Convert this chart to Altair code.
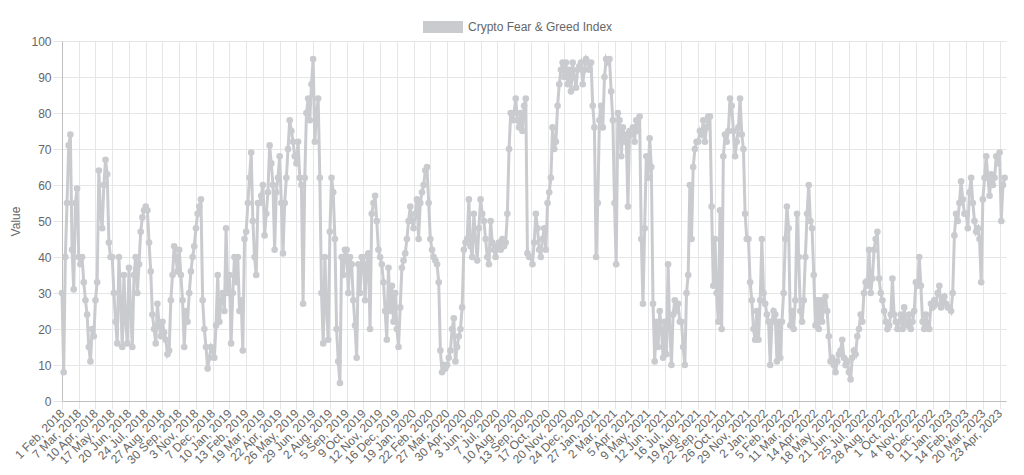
import json
import altair as alt
import pandas as pd

series_name = "Crypto Fear & Greed Index"

tick_labels = [
    "1 Feb, 2018", "7 Mar, 2018", "10 Apr, 2018", "17 May, 2018", "20 Jun, 2018",
    "24 Jul, 2018", "27 Aug, 2018", "30 Sep, 2018", "3 Nov, 2018", "7 Dec, 2018",
    "10 Jan, 2019", "13 Feb, 2019", "19 Mar, 2019", "22 Apr, 2019", "26 May, 2019",
    "29 Jun, 2019", "2 Aug, 2019", "5 Sep, 2019", "9 Oct, 2019", "12 Nov, 2019",
    "16 Dec, 2019", "19 Jan, 2020", "22 Feb, 2020", "27 Mar, 2020", "30 Apr, 2020",
    "3 Jun, 2020", "7 Jul, 2020", "10 Aug, 2020", "13 Sep, 2020", "17 Oct, 2020",
    "20 Nov, 2020", "24 Dec, 2020", "27 Jan, 2021", "2 Mar, 2021", "5 Apr, 2021",
    "9 May, 2021", "12 Jun, 2021", "16 Jul, 2021", "19 Aug, 2021", "22 Sep, 2021",
    "26 Oct, 2021", "29 Nov, 2021", "2 Jan, 2022", "5 Feb, 2022", "11 Mar, 2022",
    "14 Apr, 2022", "18 May, 2022", "21 Jun, 2022", "25 Jul, 2022", "28 Aug, 2022",
    "1 Oct, 2022", "4 Nov, 2022", "8 Dec, 2022", "11 Jan, 2023", "14 Feb, 2023",
    "20 Mar, 2023", "23 Apr, 2023",
]

# readings, 10 per labelled interval (each interval = 34 daily categories)
values = [
    30, 8, 40, 55, 71, 74, 42, 31, 55, 59,
    40, 38, 40, 33, 28, 24, 15, 11, 20, 18,
    28, 33, 64, 52, 48, 60, 67, 63, 44, 40,
    40, 30, 22, 16, 40, 28, 15, 35, 22, 16,
    37, 25, 15, 35, 40, 30, 38, 47, 51, 53,
    54, 53, 44, 36, 24, 20, 16, 27, 21, 18,
    22, 19, 17, 13, 14, 28, 35, 43, 40, 36,
    42, 35, 28, 15, 25, 22, 30, 36, 40, 43,
    48, 52, 54, 56, 28, 20, 15, 9, 12, 15,
    14, 12, 21, 35, 22, 28, 30, 25, 48, 30,
    35, 16, 30, 40, 33, 40, 25, 28, 14, 45,
    47, 55, 62, 69, 50, 40, 35, 55, 55, 57,
    60, 46, 52, 58, 71, 66, 60, 42, 58, 62,
    68, 55, 41, 55, 62, 70, 78, 75, 72, 68,
    66, 72, 62, 60, 27, 62, 80, 84, 78, 88,
    95, 72, 80, 84, 62, 30, 16, 40, 25, 17,
    47, 62, 58, 45, 20, 11, 5, 40, 35, 42,
    42, 30, 40, 38, 28, 21, 12, 38, 30, 40,
    40, 28, 38, 41, 20, 52, 55, 57, 50, 42,
    40, 38, 33, 25, 17, 37, 25, 32, 22, 30,
    20, 15, 26, 37, 39, 41, 45, 50, 54, 50,
    48, 52, 56, 45, 55, 58, 60, 64, 65, 55,
    45, 42, 40, 39, 38, 33, 14, 8, 10, 9,
    10, 12, 14, 20, 23, 11, 15, 18, 20, 26,
    42, 44, 45, 56, 43, 40, 52, 45, 39, 48,
    56, 52, 50, 45, 40, 38, 50, 44, 42, 40,
    43, 44, 42, 45, 43, 44, 52, 70, 80, 78,
    80, 84, 78, 76, 80, 75, 82, 84, 41, 40,
    40, 38, 44, 52, 48, 42, 40, 45, 48, 42,
    55, 58, 62, 76, 70, 72, 82, 88, 92, 94,
    90, 94, 88, 92, 86, 94, 90, 87, 92, 93,
    94, 88, 92, 95, 94, 92, 94, 82, 76, 40,
    55, 78, 82, 76, 90, 95, 94, 95, 86, 78,
    55, 38, 80, 78, 68, 76, 72, 74, 54, 75,
    74, 76, 72, 78, 75, 79, 45, 27, 48, 68,
    62, 73, 65, 27, 11, 22, 15, 25, 20, 12,
    22, 13, 38, 20, 10, 24, 28, 25, 27, 22,
    22, 15, 10, 30, 35, 60, 45, 65, 70, 72,
    72, 75, 74, 78, 72, 76, 79, 79, 54, 32,
    45, 30, 22, 53, 20, 68, 74, 72, 75, 84,
    82, 75, 68, 72, 76, 84, 74, 70, 52, 45,
    45, 33, 28, 20, 17, 25, 17, 28, 45, 30,
    27, 24, 22, 10, 22, 25, 24, 11, 22, 12,
    22, 30, 45, 54, 48, 21, 25, 20, 28, 52,
    40, 25, 22, 28, 40, 52, 60, 50, 48, 35,
    21, 28, 20, 28, 22, 27, 29, 25, 18, 11,
    12, 10, 8, 11, 13, 14, 17, 12, 10, 11,
    8, 6, 12, 14, 13, 18, 20, 24, 22, 30,
    33, 32, 42, 30, 34, 42, 45, 47, 34, 30,
    28, 25, 22, 20, 21, 24, 34, 24, 22, 20,
    22, 24, 20, 26, 22, 21, 24, 20, 22, 25,
    33, 32, 40, 32, 22, 20, 24, 21, 20, 27,
    26, 28, 27, 30, 32, 26, 28, 29, 27, 26,
    26, 25, 30, 46, 52, 50, 55, 61, 56, 52,
    52, 48, 58, 62, 55, 50, 47, 48, 45, 33,
    56, 62, 68, 62, 57, 63, 60, 62, 68, 66,
    69, 50, 60, 62,
]

DAYS_PER_LABEL = 34
READINGS_PER_LABEL = 10
LAST_CATEGORY = 1917

df = pd.DataFrame({
    "pos": [i * DAYS_PER_LABEL / READINGS_PER_LABEL for i in range(len(values))],
    "value": values,
    "series": series_name,
})

FONT = "Liberation Sans"
TXT = "#666666"
GRID = "#e6e6e6"
LINE = "#c9cbcf"

tick_positions = [k * DAYS_PER_LABEL for k in range(len(tick_labels))]
label_expr = json.dumps(tick_labels) + "[round(datum.value / %d)]" % DAYS_PER_LABEL

x_enc = alt.X(
    "pos:Q",
    scale=alt.Scale(domain=[0, LAST_CATEGORY], nice=False, zero=False),
    axis=alt.Axis(
        values=tick_positions, labelExpr=label_expr, title=None,
        labelAngle=315, labelAlign="right", labelBaseline="middle",
        labelOverlap=False, labelFlush=False, labelBound=False,
        labelFont=FONT, labelFontSize=12, labelColor=TXT, labelPadding=2,
        tickSize=8, tickColor=GRID, gridColor=GRID, domainColor="#bfbfbf",
    ),
)
y_enc = alt.Y(
    "value:Q",
    scale=alt.Scale(domain=[0, 100], nice=False),
    axis=alt.Axis(
        values=list(range(0, 101, 10)), title="Value",
        titleFont=FONT, titleFontSize=12, titleFontWeight="normal", titleColor=TXT,
        titlePadding=8, labelFont=FONT, labelFontSize=12, labelColor=TXT,
        labelPadding=2, labelFlush=False, tickSize=9, tickColor=GRID,
        gridColor=GRID, domainColor="#bfbfbf",
    ),
)

base = alt.Chart(df)
line = base.mark_line(color=LINE, strokeWidth=3).encode(x=x_enc, y=y_enc)
pts = base.mark_point(filled=True, color=LINE, size=44, opacity=1).encode(x=x_enc, y=y_enc)

legend_df = pd.DataFrame({"label": [series_name]})
legend_box = alt.Chart(legend_df).mark_rect(color=LINE).encode(
    x=alt.value(361), x2=alt.value(401), y=alt.value(-20), y2=alt.value(-8)
)
legend_text = alt.Chart(legend_df).mark_text(
    align="left", baseline="middle", font=FONT, fontSize=12, color=TXT
).encode(x=alt.value(406), y=alt.value(-14), text="label:N")

chart = alt.layer(line, pts, legend_box, legend_text).properties(
    width=944, height=360,
    autosize=alt.AutoSizeParams(type="none"),
    padding={"left": 54, "top": 33, "right": 10, "bottom": 66},
).configure_view(strokeWidth=0, stroke="transparent")

chart.save("out.html", embed_options={"renderer": "svg", "actions": False})
